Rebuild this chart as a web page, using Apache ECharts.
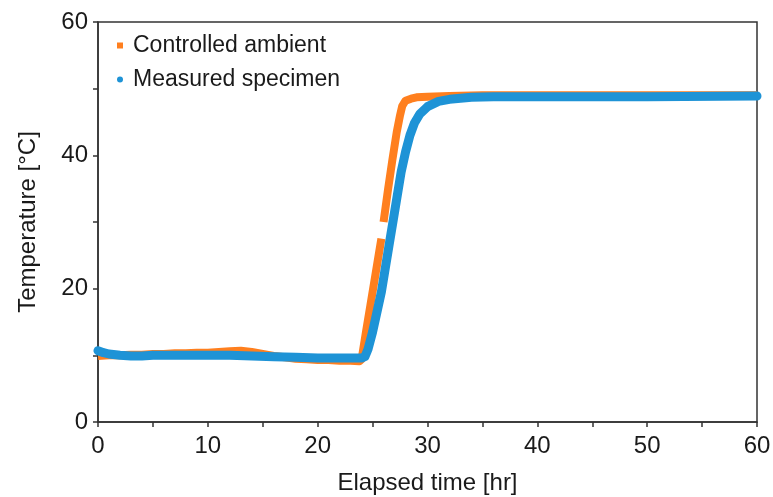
<!DOCTYPE html>
<html>
<head>
	<meta charset="utf-8">
	<title>Temperature</title>
	<script src="https://cdn.jsdelivr.net/npm/echarts@6/dist/echarts.min.js"></script>
	<style type="text/css">
		* { margin: 0; padding: 0; }
		body { background: #fff; }
		#main { width: 773px; height: 497px; }
	</style>
</head>
<body>
<div id="main"></div>
<script type="text/javascript">
    // controlled ambient (orange), null = gap in the record
    var ambientTime = [0, 1, 2, 3, 4, 5, 6, 7, 8, 9, 10, 11, 12, 13, 14, 15, 16, 17, 18, 19, 20, 21, 22, 23, 23.8,
        24.0, 24.4, 24.8, 25.2, 25.6, 25.8, 25.9, 26.0, 26.4, 26.8, 27.2, 27.5, 27.7, 28.0, 28.5,
        29, 30, 32, 35, 40, 45, 50, 55, 60];
    var ambientTemp = [9.9, 10.0, 10.0, 10.1, 10.1, 10.2, 10.2, 10.3, 10.3, 10.4, 10.4, 10.5, 10.6, 10.7, 10.5, 10.2, 9.9, 9.7, 9.5, 9.4, 9.3, 9.3, 9.2, 9.2, 9.1,
        9.4, 13.5, 17.5, 21.5, 25.5, 27.5, null, 30.0, 34.8, 39.3, 43.5, 46.0, 47.4, 48.2, 48.5,
        48.7, 48.8, 48.9, 49.0, 49.0, 49.0, 49.0, 49.0, 49.0];

    // measured specimen (blue)
    var specimenTime = [0, 0.5, 1, 2, 3, 4, 5, 6, 7, 8, 10, 12, 14, 16, 18, 20, 22, 24, 24.3, 24.6, 25.0, 25.4, 25.8,
        26.1, 26.5, 26.9, 27.2, 27.6, 28.0, 28.4, 28.8, 29.3, 30.0, 31, 32, 34, 36, 40, 50, 60];
    var specimenTemp = [10.7, 10.4, 10.2, 10.0, 9.9, 9.9, 10.0, 10.0, 10.0, 10.0, 10.0, 10.0, 9.9, 9.8, 9.7, 9.6, 9.6, 9.6, 9.8, 11.0, 13.5, 16.5, 19.5,
        22.5, 26.5, 30.5, 33.5, 37.5, 40.5, 43.0, 44.8, 46.2, 47.3, 48.1, 48.4, 48.7, 48.8, 48.8, 48.8, 48.9];

    var xTicks = [0, 10, 20, 30, 40, 50, 60];
    var yTicks = [0, 20, 40, 60];

    function pairs(xs, ys) {
        var out = [];
        for (var i = 0; i < xs.length; i++) {
            out.push([xs[i], ys[i] === null ? '-' : ys[i]]);
        }
        return out;
    }

    var font = 'Liberation Sans, Arial, sans-serif';
    var ink = '#1a1a1a';
    var orange = '#FF7F1E';
    var blue = '#1E93D6';

    var myChart = echarts.init(document.getElementById('main'));
    var option = {
        animation: false,
        grid: {
            left: 98,
            right: 16,
            top: 22,
            bottom: 75,
            outerBoundsMode: 'none',
            show: true,
            borderColor: '#333',
            borderWidth: 1.5
        },
        legend: {
            left: 112,
            top: 29,
            orient: 'vertical',
            itemWidth: 16,
            itemHeight: 6,
            itemGap: 11,
            selectedMode: false,
            textStyle: { fontSize: 23, color: ink, fontFamily: font },
            data: [
                { name: 'Controlled ambient', icon: 'path://M0,0L1,0L1,1L0,1Z' },
                { name: 'Measured specimen', icon: 'circle' }
            ]
        },
        xAxis: {
            type: 'value',
            min: 0,
            max: 60,
            interval: 5,
            name: 'Elapsed time [hr]',
            nameLocation: 'middle',
            nameGap: 49,
            nameTextStyle: { fontSize: 24, color: ink, fontFamily: font },
            axisLine: { lineStyle: { color: '#333', width: 1.5 } },
            axisTick: { length: 5, lineStyle: { color: '#333', width: 1.5 } },
            axisLabel: {
                fontSize: 24, color: ink, fontFamily: font, margin: 12,
                formatter: function (v) { return xTicks.indexOf(v) >= 0 ? String(v) : ''; }
            },
            splitLine: { show: false }
        },
        yAxis: {
            type: 'value',
            min: 0,
            max: 60,
            interval: 10,
            name: 'Temperature [°C]',
            nameLocation: 'middle',
            nameGap: 58,
            nameTextStyle: { fontSize: 24, color: ink, fontFamily: font },
            axisLine: { show: true, lineStyle: { color: '#333', width: 1.5 } },
            axisTick: { show: true, length: 5, lineStyle: { color: '#333', width: 1.5 } },
            axisLabel: {
                fontSize: 24, color: ink, fontFamily: font, margin: 10,
                formatter: function (v) { return yTicks.indexOf(v) >= 0 ? String(v) : ''; }
            },
            splitLine: { show: false }
        },
        series: [
            {
                name: 'Controlled ambient',
                type: 'line',
                showSymbol: false,
                connectNulls: false,
                itemStyle: { color: orange },
                lineStyle: { color: orange, width: 8, cap: 'butt', join: 'round' },
                data: pairs(ambientTime, ambientTemp)
            },
            {
                name: 'Measured specimen',
                type: 'line',
                showSymbol: false,
                itemStyle: { color: blue },
                lineStyle: { color: blue, width: 9, cap: 'round', join: 'round' },
                data: pairs(specimenTime, specimenTemp)
            }
        ]
    };
    myChart.setOption(option);
</script>
</body>
</html>
